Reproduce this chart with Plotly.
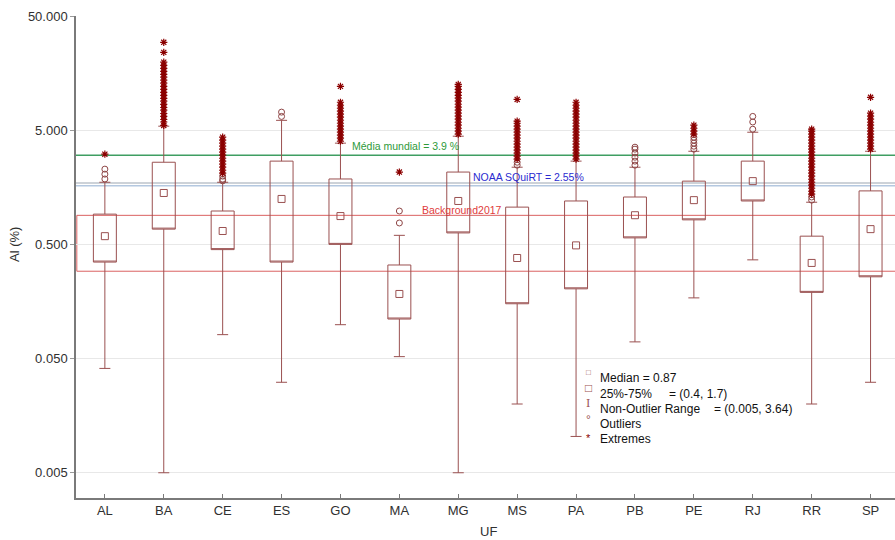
import numpy as np
import plotly.graph_objects as go

categories = ["AL", "BA", "CE", "ES", "GO", "MA", "MG", "MS", "PA", "PB", "PE", "RJ", "RR", "SP"]
q1 = [0.35, 0.68, 0.45, 0.35, 0.50, 0.111, 0.63, 0.151, 0.204, 0.57, 0.82, 1.20, 0.19, 0.26]
median = [0.59, 1.41, 0.655, 1.25, 0.885, 0.184, 1.20, 0.38, 0.49, 0.90, 1.22, 1.79, 0.344, 0.68]
q3 = [0.92, 2.62, 0.98, 2.68, 1.87, 0.33, 2.15, 1.06, 1.20, 1.30, 1.79, 2.68, 0.59, 1.47]
whisker_low = [0.041, 0.005, 0.081, 0.031, 0.099, 0.052, 0.005, 0.020, 0.0104, 0.070, 0.17, 0.366, 0.020, 0.031]
whisker_high = [1.75, 5.42, 1.75, 6.1, 3.85, 0.60, 4.43, 2.37, 2.68, 2.37, 3.27, 4.8, 1.17, 3.27]

out_AL = [1.87, 2.06, 2.28]
ext_AL = [3.08]
ext_BA = [5.5, 5.9, 6.2, 6.6, 7.0, 7.5, 7.9, 8.4, 9.0, 9.5, 10.1, 10.7, 11.4, 12.1, 12.9,
          13.7, 14.6, 15.4, 16.4, 17.4, 18.5, 19.7, 24.0, 29.4]
out_CE = [1.80, 1.86, 1.98]
ext_CE = [2.10, 2.23, 2.37, 2.52, 2.68, 2.84, 3.02, 3.21, 3.41, 3.62, 3.85, 4.09, 4.34]
out_ES = [6.6, 7.2]
ext_GO = [4.0, 4.26, 4.52, 4.80, 5.10, 5.42, 5.75, 6.11, 6.50, 6.90, 7.33, 7.78, 8.27, 8.78, 12.1]
out_MA = [0.77, 0.98]
ext_MA = [2.15]
ext_MG = [4.61, 4.90, 5.20, 5.53, 5.87, 6.24, 6.63, 7.04, 7.48, 7.95, 8.44, 8.97, 9.53,
          10.1, 10.7, 11.4, 12.1, 12.6]
out_MS = [2.47, 2.62]
ext_MS = [2.79, 2.96, 3.15, 3.34, 3.55, 3.77, 4.0, 4.26, 4.52, 4.80, 5.10, 5.42, 5.75, 6.0, 9.3]
ext_PA = [2.79, 2.96, 3.15, 3.34, 3.55, 3.77, 4.0, 4.26, 4.52, 4.80, 5.10, 5.42, 5.75,
          6.11, 6.50, 6.90, 7.33, 7.78, 8.27, 8.78]
out_PB = [2.47, 2.68, 2.90, 3.15, 3.41, 3.55]
out_PE = [3.41, 3.62, 3.85, 4.09, 4.34]
ext_PE = [4.61, 4.90, 5.20, 5.53]
out_RJ = [5.1, 5.9, 6.6]
out_RR = [1.22, 1.30]
ext_RR = [1.38, 1.46, 1.55, 1.65, 1.75, 1.86, 1.98, 2.10, 2.23, 2.37, 2.52, 2.68, 2.84,
          3.02, 3.21, 3.41, 3.62, 3.85, 4.09, 4.34, 4.61, 4.90, 5.10]
ext_SP = [3.41, 3.62, 3.85, 4.09, 4.34, 4.61, 4.90, 5.20, 5.53, 5.87, 6.24, 6.63, 7.04, 9.7]

outlier_sets = [("AL", out_AL), ("CE", out_CE), ("ES", out_ES), ("MA", out_MA), ("MS", out_MS),
                ("PB", out_PB), ("PE", out_PE), ("RJ", out_RJ), ("RR", out_RR)]
extreme_sets = [("AL", ext_AL), ("BA", ext_BA), ("CE", ext_CE), ("GO", ext_GO), ("MA", ext_MA),
                ("MG", ext_MG), ("MS", ext_MS), ("PA", ext_PA), ("PE", ext_PE), ("RR", ext_RR),
                ("SP", ext_SP)]

world_mean = 3.02
noaa_upper = 1.72
noaa_lower = 1.63
background_hi = 0.898
background_lo = 0.291

BOX = "#9a5050"
EXT = "#8b0000"
FONT = "Arial, Liberation Sans, sans-serif"

fig = go.Figure()

fig.add_trace(go.Box(
    x=categories, q1=q1, median=q1, q3=q3,
    lowerfence=whisker_low, upperfence=whisker_high,
    boxpoints=False, width=0.39, whiskerwidth=0.48,
    line=dict(color=BOX, width=1), fillcolor="rgba(0,0,0,0)",
    showlegend=False, hoverinfo="skip"))

fig.add_trace(go.Scatter(
    x=categories, y=median, mode="markers",
    marker=dict(symbol="square-open", size=7, color=BOX, line=dict(width=1)),
    showlegend=False))

ox, oy = [], []
for c, vals in outlier_sets:
    ox += [c] * len(vals)
    oy += vals
fig.add_trace(go.Scatter(
    x=ox, y=oy, mode="markers",
    marker=dict(symbol="circle-open", size=6, color="#8e4545", line=dict(width=1)),
    showlegend=False))

ex, ey = [], []
for c, vals in extreme_sets:
    ex += [c] * len(vals)
    ey += vals
fig.add_trace(go.Scatter(
    x=ex, y=ey, mode="markers",
    marker=dict(symbol="asterisk-open", size=6, color=EXT, line=dict(width=1.2, color=EXT)),
    showlegend=False))

shapes = [
    dict(type="rect", xref="paper", yref="y", x0=0.001, x1=1.02, y0=background_lo, y1=background_hi,
         line=dict(color="rgba(214,80,80,0.9)", width=1), fillcolor="rgba(0,0,0,0)", layer="between"),
    dict(type="line", xref="paper", yref="y", x0=0, x1=1, y0=world_mean, y1=world_mean,
         line=dict(color="#3f9e62", width=1.5), layer="between"),
    dict(type="line", xref="paper", yref="y", x0=0, x1=1, y0=noaa_upper, y1=noaa_upper,
         line=dict(color="#bcc3cb", width=1.5), layer="between"),
    dict(type="line", xref="paper", yref="y", x0=0, x1=1, y0=noaa_lower, y1=noaa_lower,
         line=dict(color="#b4c8e0", width=1.5), layer="between"),
]

L, T, W, H = 76, 16, 819, 482


def px(xp):
    return (xp - L) / W


def py(yp):
    return (T + H - yp) / H


ann = [
    dict(text="Média mundial = 3.9 %", x=px(405), y=py(146), font=dict(size=10.5, color="#2e9a3a")),
    dict(text="NOAA SQuiRT = 2.55%", x=px(528), y=py(177), font=dict(size=10.5, color="#2b2bd0")),
    dict(text="Background2017", x=px(462), y=py(210), font=dict(size=10.5, color="#e03c3c")),
    dict(text="Al (%)", x=px(14), y=py(245), textangle=-90, font=dict(size=13, color="#303030")),
    dict(text="UF", x=px(488), y=py(531), font=dict(size=13, color="#303030")),
]
legend_rows = [
    ("Median = 0.87", None, 378),
    ("25%-75%", "= (0.4, 1.7)", 393.5),
    ("Non-Outlier Range", "= (0.005, 3.64)", 409),
    ("Outliers", None, 424),
    ("Extremes", None, 439),
]
for label, val, yy in legend_rows:
    ann.append(dict(text=label, x=px(598), y=py(yy), xanchor="left",
                    font=dict(size=12, color="#111111")))
    if val:
        xv = 667 if label.startswith("25") else 712
        ann.append(dict(text=val, x=px(xv), y=py(yy), xanchor="left",
                        font=dict(size=12, color="#111111")))
sym = [
    ("□", 588, 372, 8, BOX, FONT),
    ("□", 588, 388, 12, BOX, FONT),
    ("I", 588, 403, 11, BOX, "DejaVu Serif, serif"),
    ("°", 588, 420, 12, BOX, FONT),
    ("*", 588, 438, 11, EXT, FONT),
]
for t, xx, yy, s, col, fam in sym:
    ann.append(dict(text=t, x=px(xx), y=py(yy), font=dict(size=s, color=col, family=fam)))

for a in ann:
    a.setdefault("xref", "paper")
    a.setdefault("yref", "paper")
    a.setdefault("showarrow", False)
    a.setdefault("xanchor", "center")
    a["yanchor"] = "middle"

fig.update_layout(
    width=895, height=540,
    margin=dict(l=L, r=0, t=T, b=540 - T - H, pad=0),
    paper_bgcolor="white", plot_bgcolor="white",
    font=dict(family=FONT, size=13, color="#303030"),
    shapes=shapes, annotations=ann, showlegend=False,
    xaxis=dict(type="category", range=[-0.49, 13.415], showgrid=False,
               showline=True, linecolor="#7a7a7a", linewidth=1.5,
               ticks="inside", ticklen=4, tickcolor="#7a7a7a",
               tickfont=dict(size=13, color="#303030"), zeroline=False),
    yaxis=dict(type="log", range=[np.log10(50) - 4.221, np.log10(50)],
               tickvals=[0.005, 0.05, 0.5, 5, 50],
               ticktext=["0.005", "0.050", "0.500", "5.000", "50.000"],
               showgrid=True, gridcolor="#e8e8e8", gridwidth=1,
               showline=True, linecolor="#7a7a7a", linewidth=1.5,
               ticks="outside", ticklen=4, tickcolor="#9a9a9a",
               tickfont=dict(size=13, color="#303030"), zeroline=False),
)

fig.write_html("out.html")
